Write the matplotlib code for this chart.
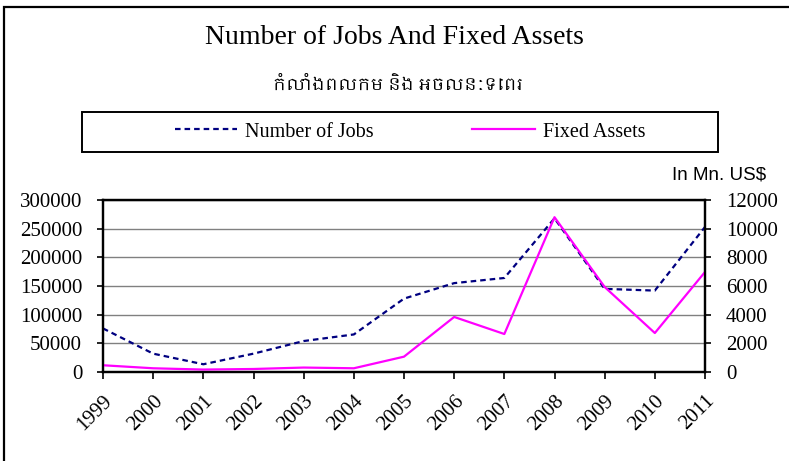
import matplotlib
matplotlib.use("Agg")
import matplotlib.pyplot as plt
from matplotlib import font_manager
from matplotlib.lines import Line2D
from matplotlib.patches import Rectangle

# data
years = ['1999', '2000', '2001', '2002', '2003', '2004', '2005',
         '2006', '2007', '2008', '2009', '2010', '2011']
jobs = [76000, 32000, 13500, 32000, 54000, 65500, 128000,
        155000, 164000, 268000, 145000, 142000, 253000]
assets = [470, 260, 170, 210, 310, 260, 1070,
          3840, 2650, 10800, 5930, 2720, 6980]

title = 'Number of Jobs And Fixed Assets'
subtitle = 'កំលាំងពលកម និង អចលនៈទេពរ'

serif = 'Liberation Serif'
khmer = [f.name for f in font_manager.fontManager.ttflist if 'Khmer' in f.name]
sub_family = khmer[:1] + [serif, 'DejaVu Sans']

fig = plt.figure(figsize=(7.89, 4.61), dpi=100)

# outer chart border (cropped on right and bottom in the reference)
fig.patches.append(Rectangle((4 / 789, -0.1), 1.2, 1 - 7 / 461 + 0.1,
                             transform=fig.transFigure, fill=False,
                             edgecolor='black', linewidth=1.6))

ax = fig.add_axes([103 / 789, 89 / 461, 602 / 789, 172 / 461])
ax2 = ax.twinx()

x = list(range(len(years)))
ax.plot(x, jobs, color='#000080', linestyle=(0, (2.5, 1.8)), linewidth=1.6)
ax2.plot(x, assets, color='#FF00FF', linewidth=1.6)

ax.set_xlim(0, len(years) - 1)
ax.set_ylim(0, 300000)
ax2.set_ylim(0, 12000)
ax.set_yticks(range(0, 300001, 50000))
ax2.set_yticks(range(0, 12001, 2000))
ax.yaxis.grid(True, color='#808080', linewidth=1)
ax.set_axisbelow(True)

ax.set_xticks(x)
ax.set_xticklabels(years, rotation=45, ha='right', va='top',
                   rotation_mode='anchor', fontfamily=serif, fontsize=15)
for lab in ax.get_yticklabels() + ax2.get_yticklabels():
    lab.set_fontfamily(serif)
    lab.set_fontsize(15)

for a in (ax, ax2):
    for s in a.spines.values():
        s.set_linewidth(1.6)
ax.tick_params(axis='x', direction='out', length=5, width=1.2, pad=9)
ax.tick_params(axis='y', direction='out', length=4, width=1.2, pad=11)
ax2.tick_params(axis='y', direction='out', length=4, width=1.2, pad=11)

fig.text(394 / 789, 1 - 38 / 461, title, ha='center', va='center',
         fontfamily=serif, fontsize=20)
fig.text(398 / 789, 1 - 85 / 461, subtitle, ha='center', va='center',
         family=sub_family, fontsize=12.3)
fig.text(719 / 789, 1 - 175 / 461, 'In Mn. US$', ha='center', va='center',
         fontfamily='Liberation Sans', fontsize=13.5)

# legend box
fig.patches.append(Rectangle((82 / 789, 1 - 152 / 461), 636 / 789, 40 / 461,
                             transform=fig.transFigure, fill=False,
                             edgecolor='black', linewidth=1.4))
handles = [Line2D([], [], color='#000080', linestyle=(0, (2.5, 1.8)), linewidth=1.6),
           Line2D([], [], color='#FF00FF', linewidth=1.6)]
fig.legend(handles, ['Number of Jobs', 'Fixed Assets'], loc='center',
           bbox_to_anchor=(410 / 789, 1 - 132 / 461), ncol=2, frameon=False,
           prop={'family': serif, 'size': 14.5}, handlelength=3.1,
           columnspacing=4.9, handletextpad=0.4)

fig.savefig('out.png', dpi=100)
